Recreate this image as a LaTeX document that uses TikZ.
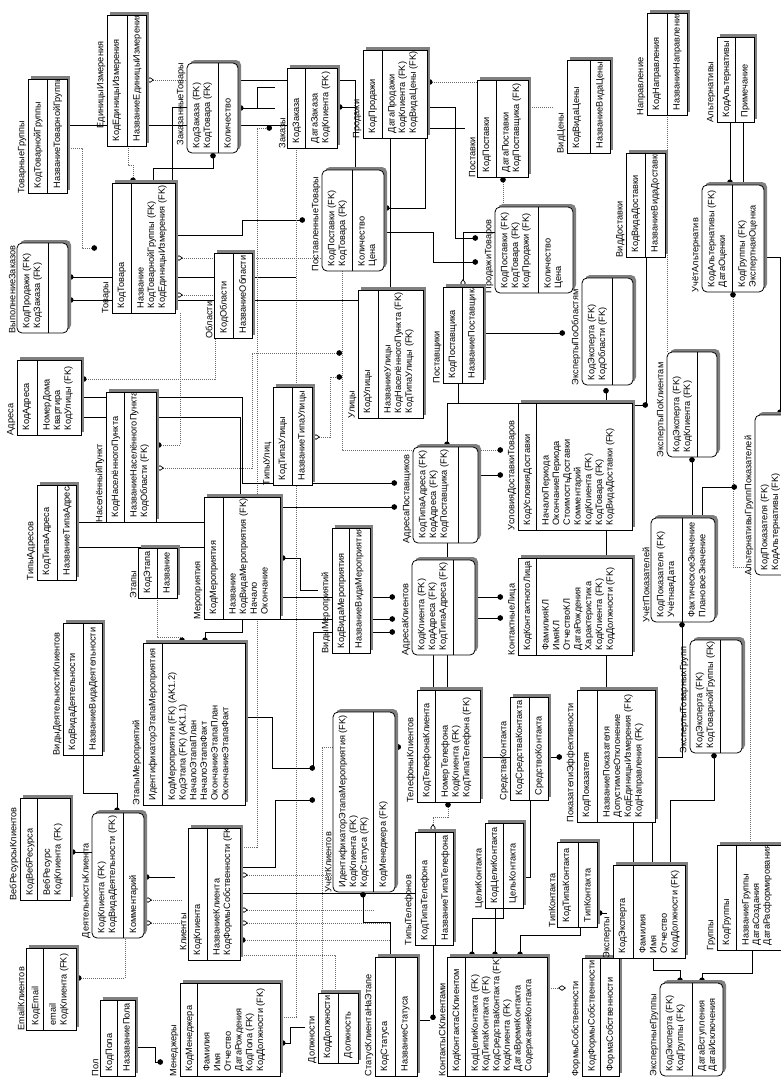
\documentclass[tikz,border=0pt]{standalone}
\usepackage{fontspec}
\setmainfont{Liberation Sans}
\usetikzlibrary{arrows.meta, calc, fit}
\definecolor{shadowgray}{RGB}{128,128,128}
\definecolor{relgray}{RGB}{105,105,105}

\tikzset{
  ent/.style={draw, fill=white, inner sep=0pt, line width=0.8pt},
  dep/.style={ent, rounded corners=5pt},
  ent shadow/.style={fill=shadowgray},
  dep shadow/.style={fill=shadowgray, rounded corners=5pt},
  attr/.style={rotate=90, anchor=north west, inner sep=0pt, align=left,
    font=\fontsize{9.2}{10.7}\selectfont},
  ename/.style={rotate=90, anchor=south west, inner sep=0pt,
    font=\fontsize{9.2}{10.7}\selectfont},
  idf/.style={line width=0.7pt},
  nidf/.style={relgray, line width=0.7pt, dash pattern=on 1pt off 1pt},
  many/.style={-{Circle[length=5.5pt, color=black]}},
  manys/.style={{Circle[length=5.5pt, color=black]}-},
  null/.style={{Diamond[open, length=8pt, width=5.5pt, color=black]}-},
  nulle/.style={-{Diamond[open, length=8pt, width=5.5pt, color=black]}},
  nullmany/.style={{Diamond[open, length=8pt, width=5.5pt, color=black]}-{Circle[length=5.5pt, color=black]}},
}

% #1 style, #2 name, #3 top-left, #4 bottom-right, #5 separator x,
% #6 entity name, #7 key part, #8 attributes, #9 shift of the name
\newcommand{\ent}[9][ent]{%
  \path[#1 shadow] ($(#3)+(3,-3)$) rectangle ($(#4)+(3,-3)$);
  \node[#1, fit={(#3) (#4)}] (#2) {};
  \draw[line width=0.8pt] (#5,0 |- #2.north) -- (#5,0 |- #2.south);
  \begin{scope}
    \clip (#3) rectangle (#4);
    \node[attr] (#2-k) at ($(#2.south west)+(6,-5)$) {#7};
    \node[attr] (#2-a) at ($(#5,0 |- #2.south)+(6,-5)$) {#8};
  \end{scope}
  \node[ename] (#2-n) at ($(#2.south west)+(-1,-#9)$) {#6};
}

\begin{document}
\begin{tikzpicture}[x=1pt, y=-1pt]
\useasboundingbox[fill=white] (0,0) rectangle (781,1079);

% relationships, drawn first so that the boxes cover them
\draw[nidf, many] (67,148) -- (82,148) -- (82,248) -- (97,248);
\draw[idf] (67,125) -- (287,125);
\draw[nidf, many] (128,146) -- (128,165) -- (133,165) -- (133,183);
\draw[nidf, null] (146,80) -- (187,80);
\draw[idf] (238,80) -- (287,80);
\draw[idf, many] (153,183) -- (153,168) -- (213,168) -- (213,153);
\draw[idf] (172,183) -- (172,107) -- (187,107);
\draw[idf, many] (175,235) -- (242,235) -- (242,220) -- (305,220);
\draw[nidf, null] (175,258) -- (322,258);
\draw[nidf, null] (175,295) -- (214,295);
\draw[idf, manys] (68,277) -- (296,277);
\draw[nidf] (296,148) -- (296,1017) -- (280,1017);
\draw[idf, manys] (68,300) -- (390,300) -- (390,138);
\draw[idf, manys] (238,108) -- (275,108);
\draw[idf] (257,108) -- (257,87) -- (275,87);
\draw[nidf, many] (240,847) -- (257,847) -- (257,128) -- (272,128);
\draw[idf] (337,80) -- (355,80) -- (355,170);
\draw[idf, manys] (337,107) -- (355,107);
\draw[nidf, manys] (427,82) -- (477,82);
\draw[idf, many] (427,107) -- (455,107) -- (455,238) -- (478,238);
\draw[idf] (427,128) -- (465,128);
\draw[nidf] (528,107) -- (553,107);
\draw[nidf, manys] (503,177) -- (503,207);
\draw[idf, manys] (384,208) -- (425,208) -- (425,138);
\draw[idf, many] (384,232) -- (433,232) -- (433,262) -- (478,262);
\draw[idf, null] (463,287) -- (463,232) -- (495,232);
\draw[idf, many] (730,122) -- (730,185);
\draw[idf] (743,122) -- (743,185);
\draw[idf, many] (764,257) -- (780,257) -- (780,415);
\draw[nidf, manys] (733,292) -- (733,567) -- (750,567) -- (750,845);
\draw[nidf] (667,115) -- (667,352);
\draw[idf] (646,257) -- (646,405);
\draw[idf, many] (632,405) -- (648,405);
\draw[idf, manys] (692,457) -- (692,518);
\draw[idf, many] (702,518) -- (702,487) -- (737,487);
\draw[nidf, many] (180,313) -- (180,445) -- (156,445);
\draw[nidf, nullmany] (156,468) -- (252,468) -- (252,353) -- (342,353);
\draw[nidf, nullmany] (312,437) -- (330,437) -- (330,377) -- (342,377);
\draw[nidf, manys] (81,379) -- (215,379) -- (215,338);
\draw[idf, many] (81,397) -- (242,397) -- (242,483) -- (397,483);
\draw[idf, many] (81,417) -- (240,417) -- (240,619) -- (395,619);
\draw[idf, many] (76,522) -- (250,522) -- (250,507) -- (397,507);
\draw[idf, many] (76,547) -- (252,547) -- (252,597) -- (395,597);
\draw[idf, many] (313,768) -- (313,632) -- (395,632);
\draw[idf, many] (458,383) -- (458,403) -- (447,403) -- (447,447);
\draw[idf] (447,403) -- (520,403);
\draw[idf] (447,543) -- (447,560);
\draw[idf] (433,655) -- (433,690);
\draw[idf] (447,655) -- (447,690);
\draw[nidf, many] (342,271) -- (342,450) -- (503,450);
\draw[idf, many] (478,475) -- (503,475);
\draw[idf, many] (475,597) -- (503,597);
\draw[idf, many] (475,618) -- (503,618);
\draw[idf, many] (483,333) -- (565,333);
\draw[idf, many] (633,865) -- (633,760) -- (606,760) -- (606,388);
\draw[idf, many] (83,755) -- (83,793) -- (117,793) -- (117,813);
\draw[idf, manys] (70,852) -- (92,852);
\draw[idf, manys] (144,877) -- (175,877);
\draw[nidf, null] (144,900) -- (182,900);
\draw[nidf, null] (144,923) -- (182,923);
\draw[nidf, manys] (76,978) -- (125,978) -- (125,938);
\draw[idf, many] (135,1047) -- (155,1047) -- (155,1062) -- (163,1062);
\draw[idf, many] (245,717) -- (272,717) -- (272,768) -- (315,768);
\draw[idf, many] (240,867) -- (275,867) -- (275,800) -- (315,800);
\draw[idf, manys] (280,1043) -- (290,1043) -- (290,1027) -- (305,1027);
\draw[idf, manys] (280,558) -- (300,558) -- (300,590) -- (318,590);
\draw[nidf, many] (157,598) -- (157,637) -- (182,637) -- (182,643);
\draw[idf, many] (242,619) -- (242,632) -- (205,632) -- (205,643);
\draw[nidf, null] (240,875) -- (390,875);
\draw[idf] (240,893) -- (415,893);
\draw[nidf, null] (240,910) -- (375,910);
\draw[nidf, null] (240,923) -- (390,923);
\draw[nidf, manys] (240,940) -- (390,940);
\draw[nidf] (240,955) -- (335,955) -- (335,993);
\draw[nidf, many] (322,993) -- (322,747) -- (401,747);
\draw[idf, manys] (363,892) -- (363,922) -- (390,922) -- (390,957);
\draw[nidf, nullmany] (433,832) -- (433,817) -- (448,817) -- (448,802);
\draw[idf, many] (433,945) -- (433,1020);
\draw[idf] (395,1020) -- (430,1020);
\draw[idf, many] (530,800) -- (530,877) -- (503,877) -- (503,918) -- (472,918) -- (472,957);
\draw[idf, many] (495,908) -- (495,957);
\draw[idf, many] (580,927) -- (580,935) -- (520,935) -- (520,957);
\draw[idf, many] (480,757) -- (562,757);
\draw[nidf, nulle] (547,988) -- (566,988);
\draw[idf, manys] (597,913) -- (607,913);
\draw[idf, many] (655,757) -- (682,757) -- (682,622);
\draw[idf, many] (670,865) -- (670,800) -- (714,800) -- (714,753);
\draw[idf] (652,822) -- (652,865);
\draw[idf, many] (653,958) -- (653,970) -- (680,970) -- (680,983);
\draw[idf, many] (752,950) -- (752,973) -- (702,973) -- (702,983);

% entities
\ent{tg}{28,79}{67,193}{47}{ТоварныеГруппы}{КодТоварнойГруппы}{НазваниеТоварнойГруппы}{0}
\ent{ei}{107,15}{146,146}{127}{ЕдиницыИзмерения}{КодЕдиницыИзмерения}{НазваниеЕдиницыИзмерения}{18}
\ent[dep]{vz}{17,243}{68,333}{48}{ВыполнениеЗаказов}{КодПродажи (FK)\\КодЗаказа (FK)}{}{0}
\ent{tov}{112,183}{175,313}{131}{Товары}{КодТовара}{Название\\КодТоварнойГруппы (FK)\\КодЕдиницыИзмерения (FK)}{0}
\ent[dep]{zt}{187,63}{238,153}{218}{ЗаказанныеТовары}{КодЗаказа (FK)\\КодТовара (FK)}{Количество}{8}
\ent{zak}{287,68}{337,148}{305}{Заказы}{КодЗаказа}{ДатаЗаказа\\КодКлиента (FK)}{0}
\ent{prod}{363,50}{427,138}{382}{Продажи}{КодПродажи}{ДатаПродажи\\КодКлиента (FK)\\КодВидаЦены (FK)}{0}
\ent[dep]{pt}{322,170}{384,271}{352}{ПоставленныеТовары}{КодПоставки (FK)\\КодТовара (FK)}{Количество\\Цена}{0}
\ent{obl}{214,253}{252,338}{233}{Области}{КодОбласти}{НазваниеОбласти}{0}
\ent{post}{477,80}{528,177}{496}{Поставки}{КодПоставки}{ДатаПоставки\\КодПоставщика (FK)}{0}
\ent{vc}{567,60}{610,153}{590}{ВидЦены}{КодВидаЦены}{НазваниеВидаЦены}{0}
\ent{nap}{647,13}{687,115}{667}{Направление}{КодНаправления}{НазваниеНаправления}{0}
\ent{alt}{717,37}{754,122}{735}{Альтернативы}{КодАльтернативы}{Примечание}{0}
\ent{vd}{626,153}{665,257}{645}{ВидДоставки}{КодВидаДоставки}{НазваниеВидаДоставки}{0}
\ent[dep]{ua}{702,185}{764,292}{732}{УчётАльтернатив}{КодАльтернативы (FK)\\ДатаОценки}{КодГруппы (FK)\\ЭкспертнаяОценка}{0}
\ent[dep]{prt}{495,207}{573,293}{538}{ПродажиТоваров}{КодПоставки (FK)\\КодТовара (FK)\\КодПродажи (FK)}{Количество\\Цена}{0}
\ent{psch}{443,287}{483,383}{462}{Поставщики}{КодПоставщика}{НазваниеПоставщика}{0}
\ent[dep]{epo}{582,278}{633,385}{612}{ЭкспертыПоОбластям}{КодЭксперта (FK)\\КодОбласти (FK)}{}{0}
\ent{adr}{17,360}{81,435}{37}{Адреса}{КодАдреса}{НомерДома\\Квартира\\КодУлицы (FK)}{0}
\ent{np}{106,392}{156,522}{124}{НаселённыйПункт}{КодНаселённогоПункта}{НазваниеНаселённогоПункта\\КодОбласти (FK)}{0}
\ent{ul}{358,290}{423,418}{378}{Улицы}{КодУлицы}{НазваниеУлицы\\КодНаселённогоПункта (FK)\\КодТипаУлицы (FK)}{0}
\ent{tu}{273,387}{312,485}{292}{ТипыУлиц}{КодТипаУлицы}{НазваниеТипаУлицы}{0}
\ent{ta}{37,485}{76,580}{57}{ТипыАдресов}{КодТипаАдреса}{НазваниеТипаАдреса}{0}
\ent{et}{138,548}{177,598}{157}{Этапы}{КодЭтапа}{Название}{0}
\ent{mer}{204,497}{280,619}{223}{Мероприятия}{КодМероприятия}{Название\\КодВидаМероприятия (FK)\\Начало\\Окончание}{0}
\ent{vm}{332,528}{370,653}{349}{ВидыМероприятий}{КодВидаМероприятия}{НазваниеВидаМероприятия}{0}
\ent[dep]{ap}{413,447}{478,543}{458}{АдресаПоставщиков}{КодТипаАдреса (FK)\\КодАдреса (FK)\\КодПоставщика (FK)}{}{0}
\ent{udt}{518,403}{632,530}{536}{УсловияДоставкиТоваров}{КодУсловияДоставки}{НачалоПериода\\ОкончаниеПериода\\СтоимостьДоставки\\Комментарий\\КодКлиента (FK)\\КодТовара (FK)\\КодВидаДоставки (FK)}{0}
\ent[dep]{epk}{667,352}{717,457}{697}{ЭкспертыПоКлиентам}{КодЭксперта (FK)\\КодКлиента (FK)}{}{0}
\ent[dep]{agp}{755,415}{800,575}{795}{АльтернативыГруппПоказателей}{КодПоказателя (FK)\\КодАльтернативы (FK)}{}{0}
\ent[dep]{ak}{412,560}{475,655}{453}{АдресаКлиентов}{КодКлиента (FK)\\КодАдреса (FK)\\КодТипаАдреса (FK)}{}{0}
\ent{kl}{518,558}{632,655}{536}{КонтактныеЛица}{КодКонтактногоЛица}{ФамилияКЛ\\ИмяКЛ\\ОтчествоКЛ\\ДатаРождения\\Характеристика\\КодКлиента (FK)\\КодДолжности (FK)}{0}
\ent[dep]{up}{651,518}{715,622}{682}{УчётПоказателей}{КодПоказателя (FK)\\УчётнаяДата}{ФактическоеЗначение\\ПлановоеЗначение}{0}
\ent{vdk}{63,623}{102,755}{83}{ВидыДеятельностиКлиентов}{КодВидаДеятельности}{НазваниеВидаДеятельности}{0}
\ent{em}{143,643}{245,805}{162}{ЭтапыМероприятий}{ИдентификаторЭтапаМероприятия}{КодМероприятия (FK) (AK1.2)\\КодЭтапа (FK) (AK1.1)\\НачалоЭтапаПлан\\НачалоЭтапаФакт\\ОкончаниеЭтапаПлан\\ОкончаниеЭтапаФакт}{0}
\ent[dep]{etg}{690,640}{742,753}{720}{ЭкспертыТоварныхГрупп}{КодЭксперта (FK)\\КодТоварнойГруппы (FK)}{}{0}
\ent{vr}{20,798}{70,900}{37}{ВебРесурсыКлиентов}{КодВебРесурса}{ВебРесурс\\КодКлиента (FK)}{0}
\ent[dep]{dk}{92,813}{144,938}{123}{ДеятельностьКлиента}{КодКлиента (FK)\\КодВидаДеятельности (FK)}{Комментарий}{0}
\ent{email}{26,948}{76,1030}{43}{EmailКлиентов}{КодEmail}{email\\КодКлиента (FK)}{0}
\ent{pol}{100,1000}{135,1076}{117}{Пол}{КодПола}{НазаваниеПола}{0}
\ent{men}{180,983}{280,1076}{197}{Менеджеры}{КодМенеджера}{Фамилия\\Имя\\Отчество\\ДатаРождения\\КодПола (FK)\\КодДолжности (FK)}{0}
\ent{kli}{188,828}{240,960}{207}{Клиенты}{КодКлиента}{НазваниеКлиента\\КодФормыСобственности (FK)}{10}
\ent[dep]{uk}{333,712}{395,892}{373}{УчётКлиентов}{ИдентификаторЭтапаМероприятия (FK)\\КодКлиента (FK)\\КодСтатуса (FK)}{КодМенеджера (FK)}{0}
\ent{dol}{318,993}{358,1063}{338}{Должности}{КодДолжности}{Должность}{0}
\ent{sk}{375,957}{417,1076}{395}{СтатусКлиентаНаЭтапе}{КодСтатуса}{НазваниеСтатуса}{0}
\ent{tk}{417,690}{480,802}{435}{ТелефоныКлиентов}{КодТелефонаКлиента}{НомерТелефона\\КодКлиента (FK)\\КодТипаТелефона (FK)}{0}
\ent{sred}{510,697}{548,800}{529}{СредстваКонтакта}{КодСредстваКонтакта}{СредствоКонтакта}{0}
\ent{tt}{415,832}{453,945}{435}{ТипыТелефонов}{КодТипаТелефона}{НазваниеТипаТелефона}{0}
\ent{ck}{485,823}{523,908}{503}{ЦелиКонтакта}{КодЦелиКонтакта}{ЦельКонтакта}{0}
\ent{tipk}{557,842}{597,927}{578}{ТипКонтакта}{КодТипаКонтакта}{ТипКонтакта}{0}
\ent{ksk}{447,957}{547,1076}{465}{КонтактыСКлиентами}{КодКонтактаСКлиентом}{КодЦелиКонтакта (FK)\\КодТипаКонтакта (FK)\\КодСредстваКонтакта (FK)\\КодКлиента (FK)\\ДатаВремяКонтакта\\СодержаниеКонтакта}{0}
\ent{fs}{582,958}{619,1076}{600}{ФормыСобственности}{КодФормыСобственности}{ФормаСобственности}{0}
\ent{pe}{577,690}{655,822}{597}{ПоказателиЭффективности}{КодПоказателя}{НазваниеПоказателя\\ДопустимоеОтклонение\\КодЕдиницыИзмерения (FK)\\КодНаправления (FK)}{0}
\ent{eks}{613,865}{685,958}{633}{Эксперты}{КодЭксперта}{Фамилия\\Имя\\Отчество\\КодДолжности (FK)}{0}
\ent{gr}{717,845}{800,950}{736}{Группы}{КодГруппы}{НазваниеГруппы\\ДатаСоздания\\ДатаРасформирования}{0}
\ent[dep]{eg}{660,983}{723,1076}{692}{ЭкспертныеГруппы}{КодЭксперта (FK)\\КодГруппы (FK)}{ДатаВступления\\ДатаИсключения}{0}
\end{tikzpicture}
\end{document}
